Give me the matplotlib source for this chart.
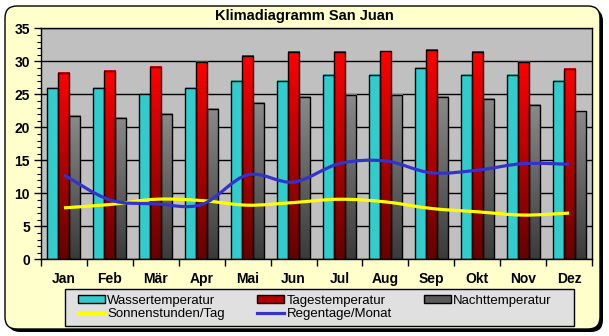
import numpy as np
import matplotlib
matplotlib.use("Agg")
import matplotlib.pyplot as plt
from matplotlib.colors import LinearSegmentedColormap
from matplotlib.patches import FancyBboxPatch, Patch, PathPatch, Rectangle
from matplotlib.path import Path
from matplotlib.lines import Line2D
from matplotlib.transforms import IdentityTransform

plt.rcParams['font.family'] = ['Liberation Sans', 'DejaVu Sans']

months = ['Jan', 'Feb', 'Mär', 'Apr', 'Mai', 'Jun', 'Jul', 'Aug', 'Sep', 'Okt', 'Nov', 'Dez']
wasser = [26, 26, 25, 26, 27, 27, 28, 28, 29, 28, 28, 27]
tages = [28.3, 28.6, 29.1, 29.9, 30.8, 31.4, 31.4, 31.5, 31.7, 31.4, 29.9, 28.8]
nacht = [21.7, 21.4, 22.0, 22.8, 23.7, 24.6, 24.9, 24.9, 24.6, 24.3, 23.4, 22.4]
sonne = [7.8, 8.3, 9.1, 8.9, 8.2, 8.6, 9.1, 8.7, 7.7, 7.2, 6.7, 7.0]
regen = [12.8, 9.0, 8.4, 8.3, 12.8, 11.7, 14.5, 14.9, 13.1, 13.5, 14.5, 14.4]

W, H = 609, 336
fig = plt.figure(figsize=(W / 100, H / 100), dpi=100)
fig.patch.set_facecolor('white')

# rounded frame with shadow (pixel coords)
shadow = FancyBboxPatch((8, 4), 595, 323, boxstyle="round,pad=0,rounding_size=12",
                        transform=IdentityTransform(), facecolor='black', edgecolor='black',
                        lw=0, zorder=-3)
frame = FancyBboxPatch((5, 7), 595, 323, boxstyle="round,pad=0,rounding_size=12",
                       transform=IdentityTransform(), facecolor='#FFFFCC', edgecolor='black',
                       lw=1, zorder=-2)
fig.add_artist(shadow)
fig.add_artist(frame)

# legend box
fig.add_artist(Rectangle((65, 10), 509, 37, transform=IdentityTransform(),
                         facecolor='#E0E0E0', edgecolor='black', lw=1, zorder=-1))

fig.text(0.5, (H - 16) / H, 'Klimadiagramm San Juan', ha='center', va='center',
         fontsize=10.5, fontweight='bold')

ax = fig.add_axes([41 / W, (H - 259.3) / H, 551 / W, 231 / H])
ax.set_facecolor('#C0C0C0')

x = np.arange(len(months))
bw = 0.24
grad = np.linspace(0, 1, 256).reshape(-1, 1)
cmaps = [
    LinearSegmentedColormap.from_list('c', ['#33CCCC', '#33CCCC']),
    LinearSegmentedColormap.from_list('r', ['#640000', '#FF0000']),
    LinearSegmentedColormap.from_list('g', ['#3A3A3A', '#8A8A8A']),
]
for k, vals in enumerate([wasser, tages, nacht]):
    off = (k - 1) * bw
    for xi, v in zip(x, vals):
        ax.imshow(grad, extent=[xi + off - bw / 2, xi + off + bw / 2, 0, v], origin='lower',
                  aspect='auto', cmap=cmaps[k], zorder=2, interpolation='bilinear')
    ax.bar(x + off, vals, bw, fill=False, edgecolor='black', linewidth=1, zorder=3)


def smooth_path(xs, ys):
    pts = np.column_stack([xs, ys]).astype(float)
    n = len(pts)
    verts = [pts[0]]
    codes = [Path.MOVETO]
    for i in range(n - 1):
        p0 = pts[max(i - 1, 0)]
        p1 = pts[i]
        p2 = pts[i + 1]
        p3 = pts[min(i + 2, n - 1)]
        c1 = p1 + (p2 - p0) / 6
        c2 = p2 - (p3 - p1) / 6
        verts += [c1, c2, p2]
        codes += [Path.CURVE4] * 3
    return Path(verts, codes)


ax.add_patch(PathPatch(smooth_path(x, sonne), fill=False, edgecolor='#FFFF00', lw=2.3, zorder=4,
                       capstyle='butt'))
ax.add_patch(PathPatch(smooth_path(x, regen), fill=False, edgecolor='#3333CC', lw=2.3, zorder=5,
                       capstyle='butt'))

ax.set_xlim(-0.5, 11.5)
ax.set_ylim(0, 35)
ax.set_xticks(x)
ax.set_xticklabels(months, fontsize=10, fontweight='bold')
ax.set_xticks(np.arange(-0.5, 12, 1), minor=True)
ax.tick_params(axis='x', which='major', length=0, pad=9)
ax.tick_params(axis='x', which='minor', length=5, width=1, direction='out')
ax.set_yticks(np.arange(0, 36, 5))
ax.set_yticks(np.arange(0, 36, 1), minor=True)
ax.tick_params(axis='y', which='major', length=5, width=1, direction='out', pad=3, labelsize=10)
ax.tick_params(axis='y', which='minor', length=3, width=0.8, direction='out')
for lab in ax.get_yticklabels():
    lab.set_fontweight('bold')
ax.yaxis.grid(True, color='black', linewidth=1)
ax.set_axisbelow(True)
for s in ax.spines.values():
    s.set_linewidth(1)

handles = [
    Patch(facecolor='#33CCCC', edgecolor='black', lw=1),
    Line2D([], [], color='#FFFF00', lw=2.3),
    Patch(facecolor='#B00000', edgecolor='black', lw=1),
    Line2D([], [], color='#3333CC', lw=2.3),
    Patch(facecolor='#5A5A5A', edgecolor='black', lw=1),
]
labels = ['Wassertemperatur', 'Sonnenstunden/Tag', 'Tagestemperatur', 'Regentage/Monat',
          'Nachttemperatur']
leg = fig.legend(handles, labels, ncol=3, loc='center',
                 bbox_to_anchor=(77 / W, 10 / H, 476 / W, 37 / H), mode='expand',
                 frameon=False, fontsize=9.5, handlelength=2.0, handleheight=0.6,
                 borderpad=0.1, labelspacing=0.15, handletextpad=0.2, borderaxespad=0)

fig.savefig('out.png', dpi=100, facecolor='white')
